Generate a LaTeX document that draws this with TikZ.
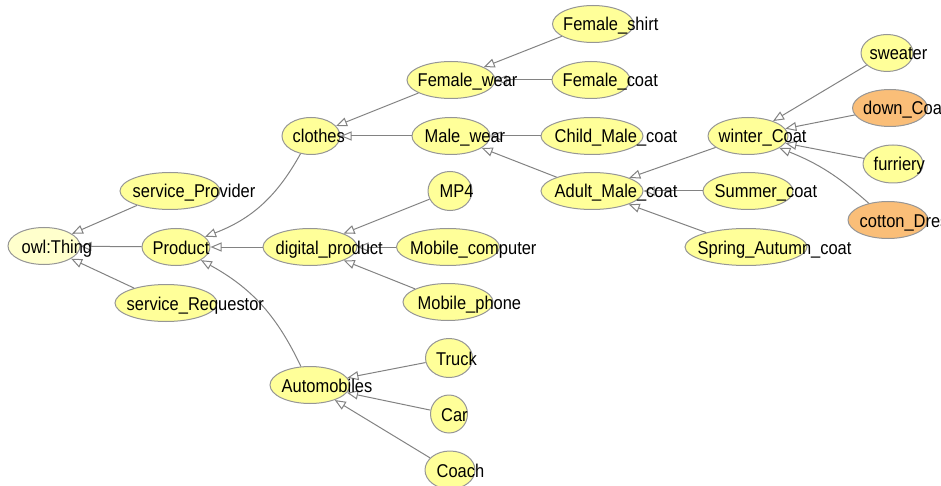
\documentclass[tikz,border=0pt]{standalone}
\usepackage{fontspec}
\setmainfont{Liberation Sans}[FakeStretch=0.89]
\usepackage{tikz}
\usetikzlibrary{shapes.geometric,arrows.meta}
\definecolor{classyellow}{RGB}{255,255,153}
\definecolor{thingyellow}{RGB}{255,255,204}
\definecolor{classorange}{RGB}{250,190,120}
\definecolor{classborder}{RGB}{150,150,150}
\definecolor{edgegray}{RGB}{130,130,130}
\tikzset{
  cls/.style={ellipse, draw=classborder, fill=classyellow, line width=1pt, inner sep=0pt, minimum height=37pt},
  clsname/.style={anchor=base west, inner sep=0pt, font=\fontsize{18.5}{20}\selectfont, text=black},
  isa/.style={draw=edgegray, line width=1pt, -{Triangle[open, length=11pt, width=9pt]}}
}

\begin{document}
\begin{tikzpicture}[x=1pt, y=-1pt]
\useasboundingbox (0,0) rectangle (941,486);
\clip (0,0) rectangle (941,486);
% classes
\node[cls, fill=thingyellow, minimum width=72pt] (thing) at (44,246) {};
\node[cls, minimum width=100pt] (provider) at (170,191) {};
\node[cls, minimum width=68pt] (product) at (176,247) {};
\node[cls, minimum width=102pt] (requestor) at (166,303) {};
\node[cls, minimum width=58pt] (clothes) at (311,136) {};
\node[cls, minimum width=94pt] (digital) at (310,247) {};
\node[cls, minimum width=80pt] (autos) at (310,385) {};
\node[cls, minimum width=88pt] (fwear) at (451,80) {};
\node[cls, minimum width=78pt] (mwear) at (451,136) {};
\node[cls, minimum width=44pt, minimum height=39pt] (mp4) at (450,191) {};
\node[cls, minimum width=103pt] (mcomputer) at (448,247) {};
\node[cls, minimum width=90pt] (mphone) at (448,302) {};
\node[cls, minimum width=47pt, minimum height=39pt] (truck) at (449,358) {};
\node[cls, minimum width=37pt, minimum height=38pt] (car) at (449,414) {};
\node[cls, minimum width=50pt, minimum height=38pt] (coach) at (450,470) {};
\node[cls, minimum width=81pt] (fshirt) at (593,24) {};
\node[cls, minimum width=78pt] (fcoat) at (591,80) {};
\node[cls, minimum width=102pt] (cmcoat) at (592,136) {};
\node[cls, minimum width=102pt] (amcoat) at (592,191) {};
\node[cls, minimum width=80pt] (wcoat) at (748,136) {};
\node[cls, minimum width=90pt] (scoat) at (748,191) {};
\node[cls, minimum width=122pt] (sacoat) at (746,247) {};
\node[cls, minimum width=52pt] (sweater) at (887,53) {};
\node[cls, fill=classorange, minimum width=75pt] (dcoat) at (890,108) {};
\node[cls, minimum width=60pt, minimum height=38pt] (furriery) at (893,164) {};
\node[cls, fill=classorange, minimum width=80pt] (cdress) at (888,220) {};
% subclass edges
\draw[isa] (provider) -- (thing);
\draw[isa] (product) -- (thing);
\draw[isa] (requestor) -- (thing);
\draw[isa] (clothes) to[bend left=20] (product);
\draw[isa] (digital) -- (product);
\draw[isa] (autos) to[bend right=18] (product);
\draw[isa] (fwear) -- (clothes);
\draw[isa] (mwear) -- (clothes);
\draw[isa] (fshirt) -- (fwear);
\draw[isa] (fcoat) -- (fwear);
\draw[isa] (cmcoat) -- (mwear);
\draw[isa] (amcoat) -- (mwear);
\draw[isa] (wcoat) -- (amcoat);
\draw[isa] (scoat) -- (amcoat);
\draw[isa] (sacoat) -- (amcoat);
\draw[isa] (sweater) -- (wcoat);
\draw[isa] (dcoat) -- (wcoat);
\draw[isa] (furriery) -- (wcoat);
\draw[isa] (cdress) to[bend right=10] (wcoat);
\draw[isa] (mp4) -- (digital);
\draw[isa] (mcomputer) -- (digital);
\draw[isa] (mphone) -- (digital);
\draw[isa] (truck) -- (autos);
\draw[isa] (car) -- (autos);
\draw[isa] (coach) -- (autos);
% class names
\node[clsname] at ([shift={(14pt,-7pt)}]thing.west) {owl:Thing};
\node[clsname] at ([shift={(13pt,-7pt)}]provider.west) {service\_Provider};
\node[clsname] at ([shift={(11pt,-7pt)}]product.west) {Product};
\node[clsname] at ([shift={(12pt,-7pt)}]requestor.west) {service\_Requestor};
\node[clsname] at ([shift={(11pt,-7pt)}]clothes.west) {clothes};
\node[clsname] at ([shift={(13pt,-7pt)}]digital.west) {digital\_product};
\node[clsname] at ([shift={(12pt,-7pt)}]autos.west) {Automobiles};
\node[clsname] at ([shift={(11pt,-7pt)}]fwear.west) {Female\_wear};
\node[clsname] at ([shift={(13pt,-7pt)}]mwear.west) {Male\_wear};
\node[clsname] at ([shift={(12pt,-7pt)}]mp4.west) {MP4};
\node[clsname] at ([shift={(14pt,-7pt)}]mcomputer.west) {Mobile\_computer};
\node[clsname] at ([shift={(15pt,-7pt)}]mphone.west) {Mobile\_phone};
\node[clsname] at ([shift={(11pt,-7pt)}]truck.west) {Truck};
\node[clsname] at ([shift={(11pt,-7pt)}]car.west) {Car};
\node[clsname] at ([shift={(12pt,-7pt)}]coach.west) {Coach};
\node[clsname] at ([shift={(11pt,-7pt)}]fshirt.west) {Female\_shirt};
\node[clsname] at ([shift={(11pt,-7pt)}]fcoat.west) {Female\_coat};
\node[clsname] at ([shift={(14pt,-7pt)}]cmcoat.west) {Child\_Male\_coat};
\node[clsname] at ([shift={(14pt,-7pt)}]amcoat.west) {Adult\_Male\_coat};
\node[clsname] at ([shift={(11pt,-7pt)}]wcoat.west) {winter\_Coat};
\node[clsname] at ([shift={(12pt,-7pt)}]scoat.west) {Summer\_coat};
\node[clsname] at ([shift={(13pt,-7pt)}]sacoat.west) {Spring\_Autumn\_coat};
\node[clsname] at ([shift={(9pt,-7pt)}]sweater.west) {sweater};
\node[clsname] at ([shift={(11pt,-7pt)}]dcoat.west) {down\_Coat};
\node[clsname] at ([shift={(11pt,-7pt)}]furriery.west) {furriery};
\node[clsname] at ([shift={(12pt,-7pt)}]cdress.west) {cotton\_Dress};
\end{tikzpicture}
\end{document}
